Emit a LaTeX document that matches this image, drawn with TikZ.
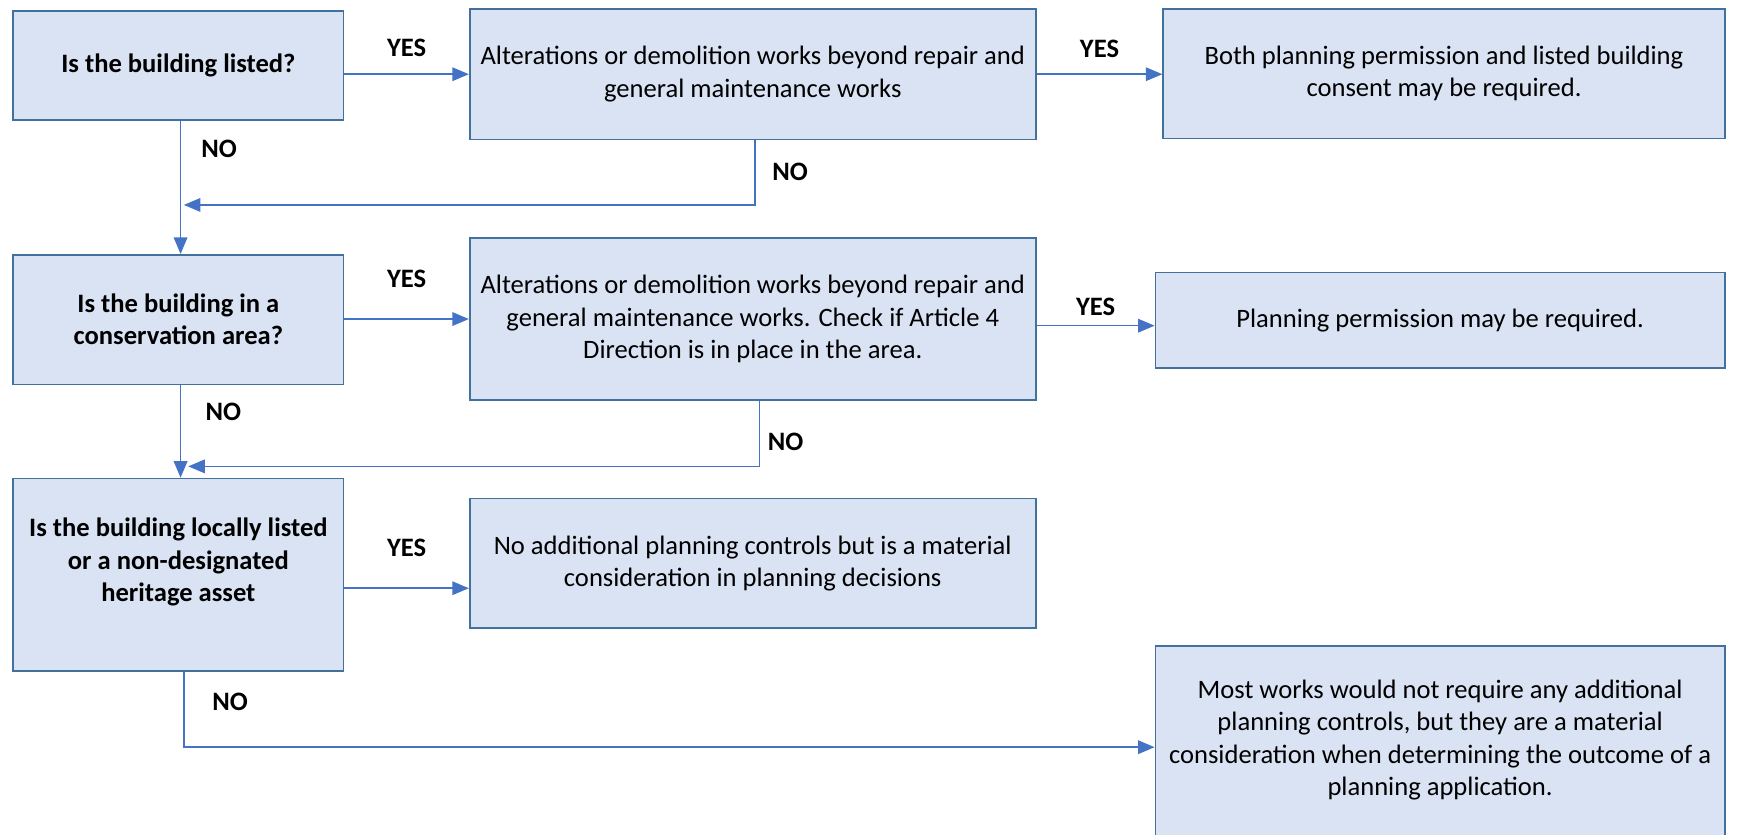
\documentclass[tikz,border=0pt]{standalone}
\usepackage{fontspec}
\setmainfont{Carlito}
\usetikzlibrary{arrows,shapes}
\usetikzlibrary{positioning}
\usetikzlibrary{calc}
\definecolor{boxfill}{HTML}{DAE3F3}
\definecolor{boxline}{HTML}{41719C}
\definecolor{arrowblue}{HTML}{4472C4}
\tikzstyle{question}=[rectangle,fill=boxfill,draw=boxline,line width=0.8pt,inner sep=0pt,align=center,font=\fontsize{12pt}{14.6pt}\selectfont\bfseries]
\tikzstyle{answer}=[rectangle,fill=boxfill,draw=boxline,line width=0.8pt,inner sep=0pt,align=center,font=\fontsize{12pt}{14.6pt}\selectfont]
\tikzstyle{edge} = [draw,arrowblue,line width=0.7pt,-triangle 45]
\tikzstyle{weight} = [font=\fontsize{12pt}{14.6pt}\selectfont\bfseries,inner sep=0pt,text=black]

\begin{document}
\begin{tikzpicture}[x=0.5pt,y=-0.5pt]
    \path[use as bounding box,clip] (0,0) rectangle (1568,753);

    % questions on the left
    \foreach \pos/\name/\boxh/\txt in {{(161,59)/Q1/49pt/{Is the building listed?}}, {(161,288.5)/Q2/58.5pt/{Is the building in a\\conservation area?}}}
        \node[question, minimum width=149pt, minimum height=\boxh] (\name) at \pos {\txt};
    \node[question, minimum width=149pt, minimum height=87pt, text depth=13.5pt] (Q3) at (161,519) {Is the building locally listed\\or a non-designated\\heritage asset};

    % works to check
    \foreach \pos/\name/\boxh/\txt in {{(679.5,67)/A1/59pt/{Alterations or demolition works beyond repair and\\general maintenance works}}, {(679.5,288)/A2/73pt/{Alterations or demolition works beyond repair and\\general maintenance works. Check if Article 4\\Direction is in place in the area.}}, {(679.5,508.5)/A3/58.5pt/{No additional planning controls but is a material\\consideration in planning decisions}}}
        \node[answer, minimum width=255.5pt, minimum height=\boxh] (\name) at \pos {\txt};

    % outcomes
    \foreach \pos/\name/\boxw/\boxh/\txt in {{(1303.5,66.5)/R1/253.5pt/58.5pt/{Both planning permission and listed building\\consent may be required.}}, {(1300,289)/R2/257pt/43pt/{Planning permission may be required.}}}
        \node[answer, minimum width=\boxw, minimum height=\boxh] (\name) at \pos {\txt};
    \node[answer, minimum width=257pt, minimum height=98.5pt, text depth=15.4pt] (R3) at (1300,681.5) {Most works would not require any additional\\planning controls, but they are a material\\consideration when determining the outcome of a\\planning application.};

    \coordinate (j1) at (166,185);
    \coordinate (j2) at (170,421);

    % yes branches
    \path[edge] (Q1.east |- A1.west) -- node[weight, above=7.5pt] {YES} (A1.west);
    \path[edge] (A1.east) -- node[weight, above=7pt] {YES} (A1.east -| R1.west);
    \path[edge] (Q2.east |- A2.west) -- node[weight, above=14pt] {YES} (A2.west);
    \path[edge] ([yshift=-3pt]A2.east) -- node[weight, above=4pt] {YES} ([yshift=-3pt]A2.east -| R2.west);
    \path[edge] ([yshift=-6pt]Q3.east) -- node[weight, above=14pt] {YES} ([yshift=-6pt]Q3.east -| A3.west);

    % no branches
    \path[edge] ([xshift=1pt]Q1.south) -- node[weight, pos=0.21, right=9pt] {NO} ([xshift=1pt]Q2.north);
    \path[edge] ([xshift=1pt]A1.south) |- node[weight, pos=0.24, right=7.5pt] {NO} (j1);
    \path[edge] ([xshift=1pt]Q2.south) -- node[weight, pos=0.29, right=11pt] {NO} ([xshift=1pt]Q3.north);
    \path[edge] ([xshift=3pt]A2.south) |- node[weight, pos=0.31, right=3.5pt] {NO} (j2);
    \path[edge] ([xshift=2.5pt]Q3.south) |- node[weight, pos=0.2, right=12.5pt] {NO} ([yshift=3.5pt]R3.west);

\end{tikzpicture}
\end{document}
